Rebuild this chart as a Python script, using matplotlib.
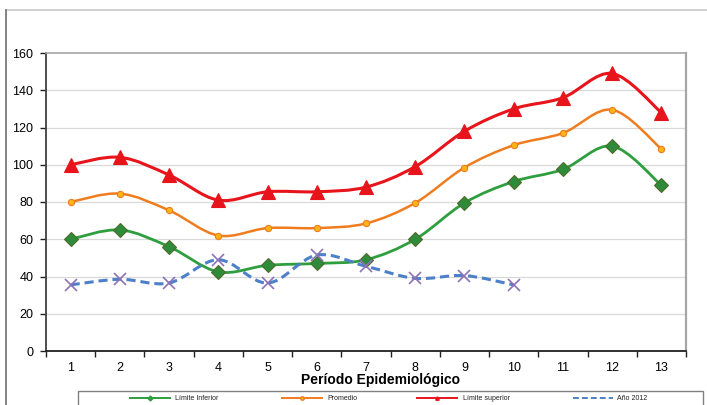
import matplotlib
matplotlib.use("Agg")
import matplotlib.pyplot as plt
from matplotlib.path import Path
from matplotlib.patches import PathPatch, Rectangle
from matplotlib.lines import Line2D
import numpy as np

plt.rcParams['font.family'] = ['Liberation Sans', 'DejaVu Sans']

periodos = list(range(1, 14))
limite_inferior = [60, 65, 56, 42.5, 46, 47, 49, 60, 79.5, 91, 97.5, 110, 89]
promedio = [80, 84.5, 75.5, 62, 66, 66, 68.5, 79.5, 98.5, 110.5, 117, 129.5, 108.5]
limite_superior = [100, 104, 94.5, 81, 85.5, 85.5, 88, 99, 118, 130, 136, 149, 128]
anio_2012 = [35.5, 38.5, 36.5, 49, 36.5, 51.5, 45.5, 39, 40.5, 35.5]

y_ticks = [0, 20, 40, 60, 80, 100, 120, 140, 160]

C_GREEN = "#2E9E3E"
C_ORANGE = "#EF7D1F"
C_RED = "#E8141C"
C_BLUE = "#4D80C8"
C_PURPLE = "#8D72B8"


def smooth_path(xs, ys, tension=1 / 6):
    """Catmull-Rom style smoothed path through the given points."""
    pts = np.column_stack([xs, ys]).astype(float)
    n = len(pts)
    verts = [pts[0]]
    codes = [Path.MOVETO]
    for i in range(n - 1):
        p0 = pts[i - 1] if i > 0 else pts[i]
        p1 = pts[i]
        p2 = pts[i + 1]
        p3 = pts[i + 2] if i + 2 < n else pts[i + 1]
        c1 = p1 + (p2 - p0) * tension
        c2 = p2 - (p3 - p1) * tension
        verts += [c1, c2, p2]
        codes += [Path.CURVE4] * 3
    return Path(verts, codes)


fig = plt.figure(figsize=(7.07, 4.05), dpi=100)
ax = fig.add_axes([46 / 707, 1 - 351 / 405, 640 / 707, 298 / 405])

ax.set_xlim(0.5, 13.5)
ax.set_ylim(0, 160)

for y in y_ticks[1:-1]:
    ax.axhline(y, color="#D9D9D9", lw=0.9, zorder=1)


def draw_series(xs, ys, color, lw, ls, marker, ms, mfc, mec, mew, z):
    patch = PathPatch(smooth_path(xs, ys), fill=False, edgecolor=color,
                      lw=lw, ls=ls, zorder=z, capstyle="butt")
    ax.add_patch(patch)
    ax.plot(xs, ys, ls="none", marker=marker, ms=ms, mfc=mfc, mec=mec,
            mew=mew, zorder=z + 0.5)


draw_series(periodos, limite_superior, C_RED, 2.2, "-", "^", 9.5,
            C_RED, C_RED, 0.8, 3)
draw_series(periodos, promedio, C_ORANGE, 1.8, "-", "o", 4.5,
            "#FDB515", C_ORANGE, 0.8, 3)
draw_series(periodos, limite_inferior, C_GREEN, 2.0, "-", "D", 7,
            "#2E8B3A", "#4F6B2A", 0.8, 3)
draw_series(periodos[:len(anio_2012)], anio_2012, C_BLUE, 2.2, (0, (3, 1.6)),
            "x", 9, C_PURPLE, C_PURPLE, 1.2, 4)

# axes frame
for side in ("top", "right"):
    ax.spines[side].set_color("#A6A6A6")
ax.spines["top"].set_linewidth(1.2)
ax.spines["right"].set_linewidth(1.6)
ax.spines["left"].set_color("#404040")
ax.spines["bottom"].set_color("#202020")
ax.spines["left"].set_linewidth(1.3)
ax.spines["bottom"].set_linewidth(1.3)

ax.set_yticks(y_ticks)
ax.set_yticklabels([str(v) for v in y_ticks], fontsize=9)
ax.tick_params(axis="y", direction="out", length=4, width=1, pad=5,
               colors="#202020", labelcolor="black")

ax.set_xticks(np.arange(0.5, 14, 1.0))
ax.set_xticklabels([])
ax.set_xticks(periodos, minor=True)
ax.set_xticklabels([str(p) for p in periodos], minor=True, fontsize=9)
ax.tick_params(axis="x", which="major", direction="out", length=4, width=1,
               colors="#202020")
ax.tick_params(axis="x", which="minor", length=0, pad=8)

fig.text(381 / 707, 1 - 380 / 405, "Período Epidemiológico", ha="center",
         va="center", fontsize=10, fontweight="bold")

# outer chart border
fig.add_artist(Line2D([6 / 707, 1], [1 - 10 / 405] * 2, color="#C8C8C8",
                      lw=1.2, transform=fig.transFigure))
fig.add_artist(Line2D([6 / 707] * 2, [0, 1 - 10 / 405], color="#707070",
                      lw=1.2, transform=fig.transFigure))

# legend box
fig.add_artist(Rectangle((78 / 707, -0.02), (703 - 78) / 707,
                         0.02 + (405 - 391) / 405, fill=False,
                         edgecolor="#808080", lw=1.0,
                         transform=fig.transFigure))

legend_items = [
    ("Límite Inferior", C_GREEN, "-", "D", C_GREEN, 130, 175),
    ("Promedio", C_ORANGE, "-", "o", "#FDB515", 282, 327),
    ("Límite superior", C_RED, "-", "^", C_RED, 417, 463),
    ("Año 2012", C_BLUE, (0, (3, 1.6)), None, None, 573, 617),
]
ly = 1 - 398 / 405
for label, color, ls, mk, mfc, x0, xt in legend_items:
    fig.add_artist(Line2D([x0 / 707, (x0 + 40) / 707], [ly, ly], color=color,
                          lw=1.4, ls=ls, transform=fig.transFigure))
    if mk:
        fig.add_artist(Line2D([(x0 + 20) / 707], [ly], marker=mk, ms=2.5,
                              color=color, mfc=mfc, mec=color, ls="none",
                              transform=fig.transFigure))
    fig.text(xt / 707, ly, label, fontsize=5, va="center", ha="left",
             color="#202020")

fig.savefig("out.png", dpi=100)
